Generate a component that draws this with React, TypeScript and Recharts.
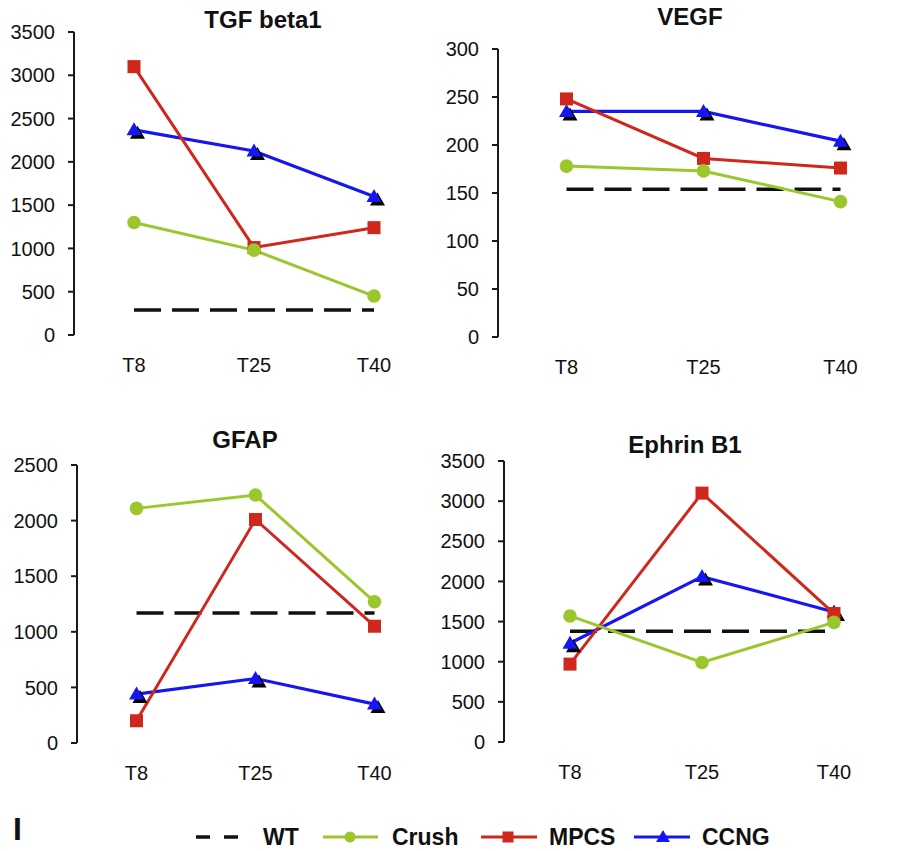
import React from 'react';
import { LineChart, Line, XAxis, YAxis } from 'recharts';

const categories = ['T8', 'T25', 'T40'];

const tgfWT = [290, 290, 290];
const tgfCrush = [1300, 980, 450];
const tgfMPCS = [3100, 1010, 1240];
const tgfCCNG = [2370, 2125, 1600];
const tgfTicks = [0, 500, 1000, 1500, 2000, 2500, 3000, 3500];

const vegfWT = [154, 154, 154];
const vegfCrush = [178, 173, 141];
const vegfMPCS = [248, 186, 176];
const vegfCCNG = [235, 235, 204];
const vegfTicks = [0, 50, 100, 150, 200, 250, 300];

const gfapWT = [1170, 1170, 1170];
const gfapCrush = [2110, 2230, 1270];
const gfapMPCS = [200, 2010, 1050];
const gfapCCNG = [440, 580, 350];
const gfapTicks = [0, 500, 1000, 1500, 2000, 2500];

const ephWT = [1380, 1380, 1380];
const ephCrush = [1570, 990, 1490];
const ephMPCS = [970, 3100, 1600];
const ephCCNG = [1230, 2060, 1620];
const ephTicks = [0, 500, 1000, 1500, 2000, 2500, 3000, 3500];

const frameTicks = [0, 1, 2, 3];

const COLORS = {
  WT: '#111111',
  Crush: '#9CC62D',
  MPCS: '#D0271D',
  CCNG: '#1616F2',
};

const FONT = '"Liberation Sans", Arial, Helvetica, sans-serif';

function buildRows(wt: number[], crush: number[], mpcs: number[], ccng: number[]) {
  return categories.map((c, i) => ({ t: c, WT: wt[i], Crush: crush[i], MPCS: mpcs[i], CCNG: ccng[i] }));
}

const CircleDot = (props: any) => {
  const { cx, cy, index } = props;
  if (cx == null || cy == null) return <g key={`c-${index}`} />;
  return <circle key={`c-${index}`} cx={cx} cy={cy} r={6.8} fill={COLORS.Crush} />;
};

const SquareDot = (props: any) => {
  const { cx, cy, index } = props;
  if (cx == null || cy == null) return <g key={`s-${index}`} />;
  return <rect key={`s-${index}`} x={cx - 6.5} y={cy - 6.5} width={13} height={13} fill={COLORS.MPCS} />;
};

const triPts = (cx: number, cy: number) => `${cx},${cy - 7.5} ${cx + 7.5},${cy + 5.5} ${cx - 7.5},${cy + 5.5}`;

const TriangleDot = (props: any) => {
  const { cx, cy, index } = props;
  if (cx == null || cy == null) return <g key={`t-${index}`} />;
  return (
    <g key={`t-${index}`}>
      <polygon points={triPts(cx + 3.5, cy + 3.5)} fill="#000" />
      <polygon points={triPts(cx, cy)} fill={COLORS.CCNG} />
    </g>
  );
};

type PanelProps = {
  title: string;
  left: number;
  top: number;
  yWidth: number;
  plotW: number;
  plotTop: number;
  plotH: number;
  titleX: number;
  titleY: number;
  rows: any[];
  ticks: number[];
};

const axisStroke = { stroke: '#1a1a1a', strokeWidth: 2 };

function Panel(p: PanelProps) {
  const width = p.yWidth + p.plotW;
  const height = p.plotTop + p.plotH + 50;
  const yMax = p.ticks[p.ticks.length - 1];
  return (
    <div style={{ position: 'absolute', left: p.left, top: p.top, width, height }}>
      <LineChart width={width} height={height} data={p.rows} margin={{ top: p.plotTop, right: 0, bottom: 0, left: 0 }}>
        <XAxis
          xAxisId="frame"
          type="number"
          domain={[0, 3]}
          allowDataOverflow
          ticks={frameTicks}
          tick={false}
          tickSize={6}
          height={0}
          axisLine={axisStroke}
          tickLine={axisStroke}
        />
        <XAxis
          xAxisId="cat"
          dataKey="t"
          scale="band"
          interval={0}
          axisLine={false}
          tickLine={false}
          tickSize={6}
          tickMargin={17}
          height={50}
          tick={{ fontSize: 20, fill: '#111' }}
        />
        <YAxis
          domain={[0, yMax]}
          ticks={p.ticks}
          interval={0}
          width={p.yWidth}
          tickSize={6}
          tickMargin={13}
          axisLine={axisStroke}
          tickLine={axisStroke}
          tick={{ fontSize: 20, fill: '#111' }}
        />
        <Line
          xAxisId="cat"
          dataKey="WT"
          stroke={COLORS.WT}
          strokeWidth={3.5}
          strokeDasharray="27 11"
          dot={false}
          activeDot={false}
          isAnimationActive={false}
        />
        <Line
          xAxisId="cat"
          dataKey="CCNG"
          stroke={COLORS.CCNG}
          strokeWidth={3.2}
          dot={TriangleDot}
          activeDot={false}
          isAnimationActive={false}
        />
        <Line
          xAxisId="cat"
          dataKey="MPCS"
          stroke={COLORS.MPCS}
          strokeWidth={3}
          dot={SquareDot}
          activeDot={false}
          isAnimationActive={false}
        />
        <Line
          xAxisId="cat"
          dataKey="Crush"
          stroke={COLORS.Crush}
          strokeWidth={3}
          dot={CircleDot}
          activeDot={false}
          isAnimationActive={false}
        />
      </LineChart>
      <div
        style={{
          position: 'absolute',
          left: p.titleX - p.left,
          top: p.titleY - p.top,
          transform: 'translate(-50%, -50%)',
          fontSize: 24,
          fontWeight: 'bold',
          whiteSpace: 'nowrap',
          color: '#111',
          lineHeight: 1,
        }}
      >
        {p.title}
      </div>
    </div>
  );
}

function LegendBar() {
  const y = 837;
  const ts = { fontSize: 23, fontWeight: 'bold' as const, fill: '#111' };
  return (
    <svg width={901} height={851} style={{ position: 'absolute', left: 0, top: 0, pointerEvents: 'none' }}>
      <text x={13} y={840} style={{ fontSize: 32, fontWeight: 'bold' }} fill="#111">I</text>
      <line x1={196} x2={238} y1={y} y2={y} stroke={COLORS.WT} strokeWidth={3.5} strokeDasharray="14 14" />
      <text x={263} y={845} style={ts} fill="#111">WT</text>
      <line x1={323} x2={378} y1={y} y2={y} stroke={COLORS.Crush} strokeWidth={3} />
      <circle cx={350} cy={y} r={5.5} fill={COLORS.Crush} />
      <text x={392} y={845} style={ts} fill="#111">Crush</text>
      <line x1={481} x2={537} y1={y} y2={y} stroke={COLORS.MPCS} strokeWidth={3} />
      <rect x={502.5} y={y - 5.5} width={11} height={11} fill={COLORS.MPCS} />
      <text x={549} y={845} style={ts} fill="#111">MPCS</text>
      <line x1={634} x2={690} y1={y} y2={y} stroke={COLORS.CCNG} strokeWidth={3} />
      <polygon points={`663,${y - 7} 670,${y + 5} 656,${y + 5}`} fill={COLORS.CCNG} />
      <text x={702} y={845} style={ts} fill="#111">CCNG</text>
    </svg>
  );
}

export default function App() {
  return (
    <div
      style={{
        position: 'absolute',
        left: 0,
        top: 0,
        width: 901,
        height: 851,
        overflow: 'hidden',
        background: '#fff',
        fontFamily: FONT,
      }}
    >
      <Panel
        title="TGF beta1"
        left={0}
        top={0}
        yWidth={74}
        plotW={360}
        plotTop={32}
        plotH={303}
        titleX={263}
        titleY={20}
        rows={buildRows(tgfWT, tgfCrush, tgfMPCS, tgfCCNG)}
        ticks={tgfTicks}
      />
      <Panel
        title="VEGF"
        left={440}
        top={0}
        yWidth={58}
        plotW={411}
        plotTop={49}
        plotH={288}
        titleX={690}
        titleY={17}
        rows={buildRows(vegfWT, vegfCrush, vegfMPCS, vegfCCNG)}
        ticks={vegfTicks}
      />
      <Panel
        title="GFAP"
        left={0}
        top={400}
        yWidth={77}
        plotW={357}
        plotTop={65}
        plotH={278}
        titleX={245}
        titleY={440}
        rows={buildRows(gfapWT, gfapCrush, gfapMPCS, gfapCCNG)}
        ticks={gfapTicks}
      />
      <Panel
        title="Ephrin B1"
        left={440}
        top={400}
        yWidth={64}
        plotW={396}
        plotTop={61}
        plotH={281}
        titleX={685}
        titleY={445}
        rows={buildRows(ephWT, ephCrush, ephMPCS, ephCCNG)}
        ticks={ephTicks}
      />
      <LegendBar />
    </div>
  );
}
